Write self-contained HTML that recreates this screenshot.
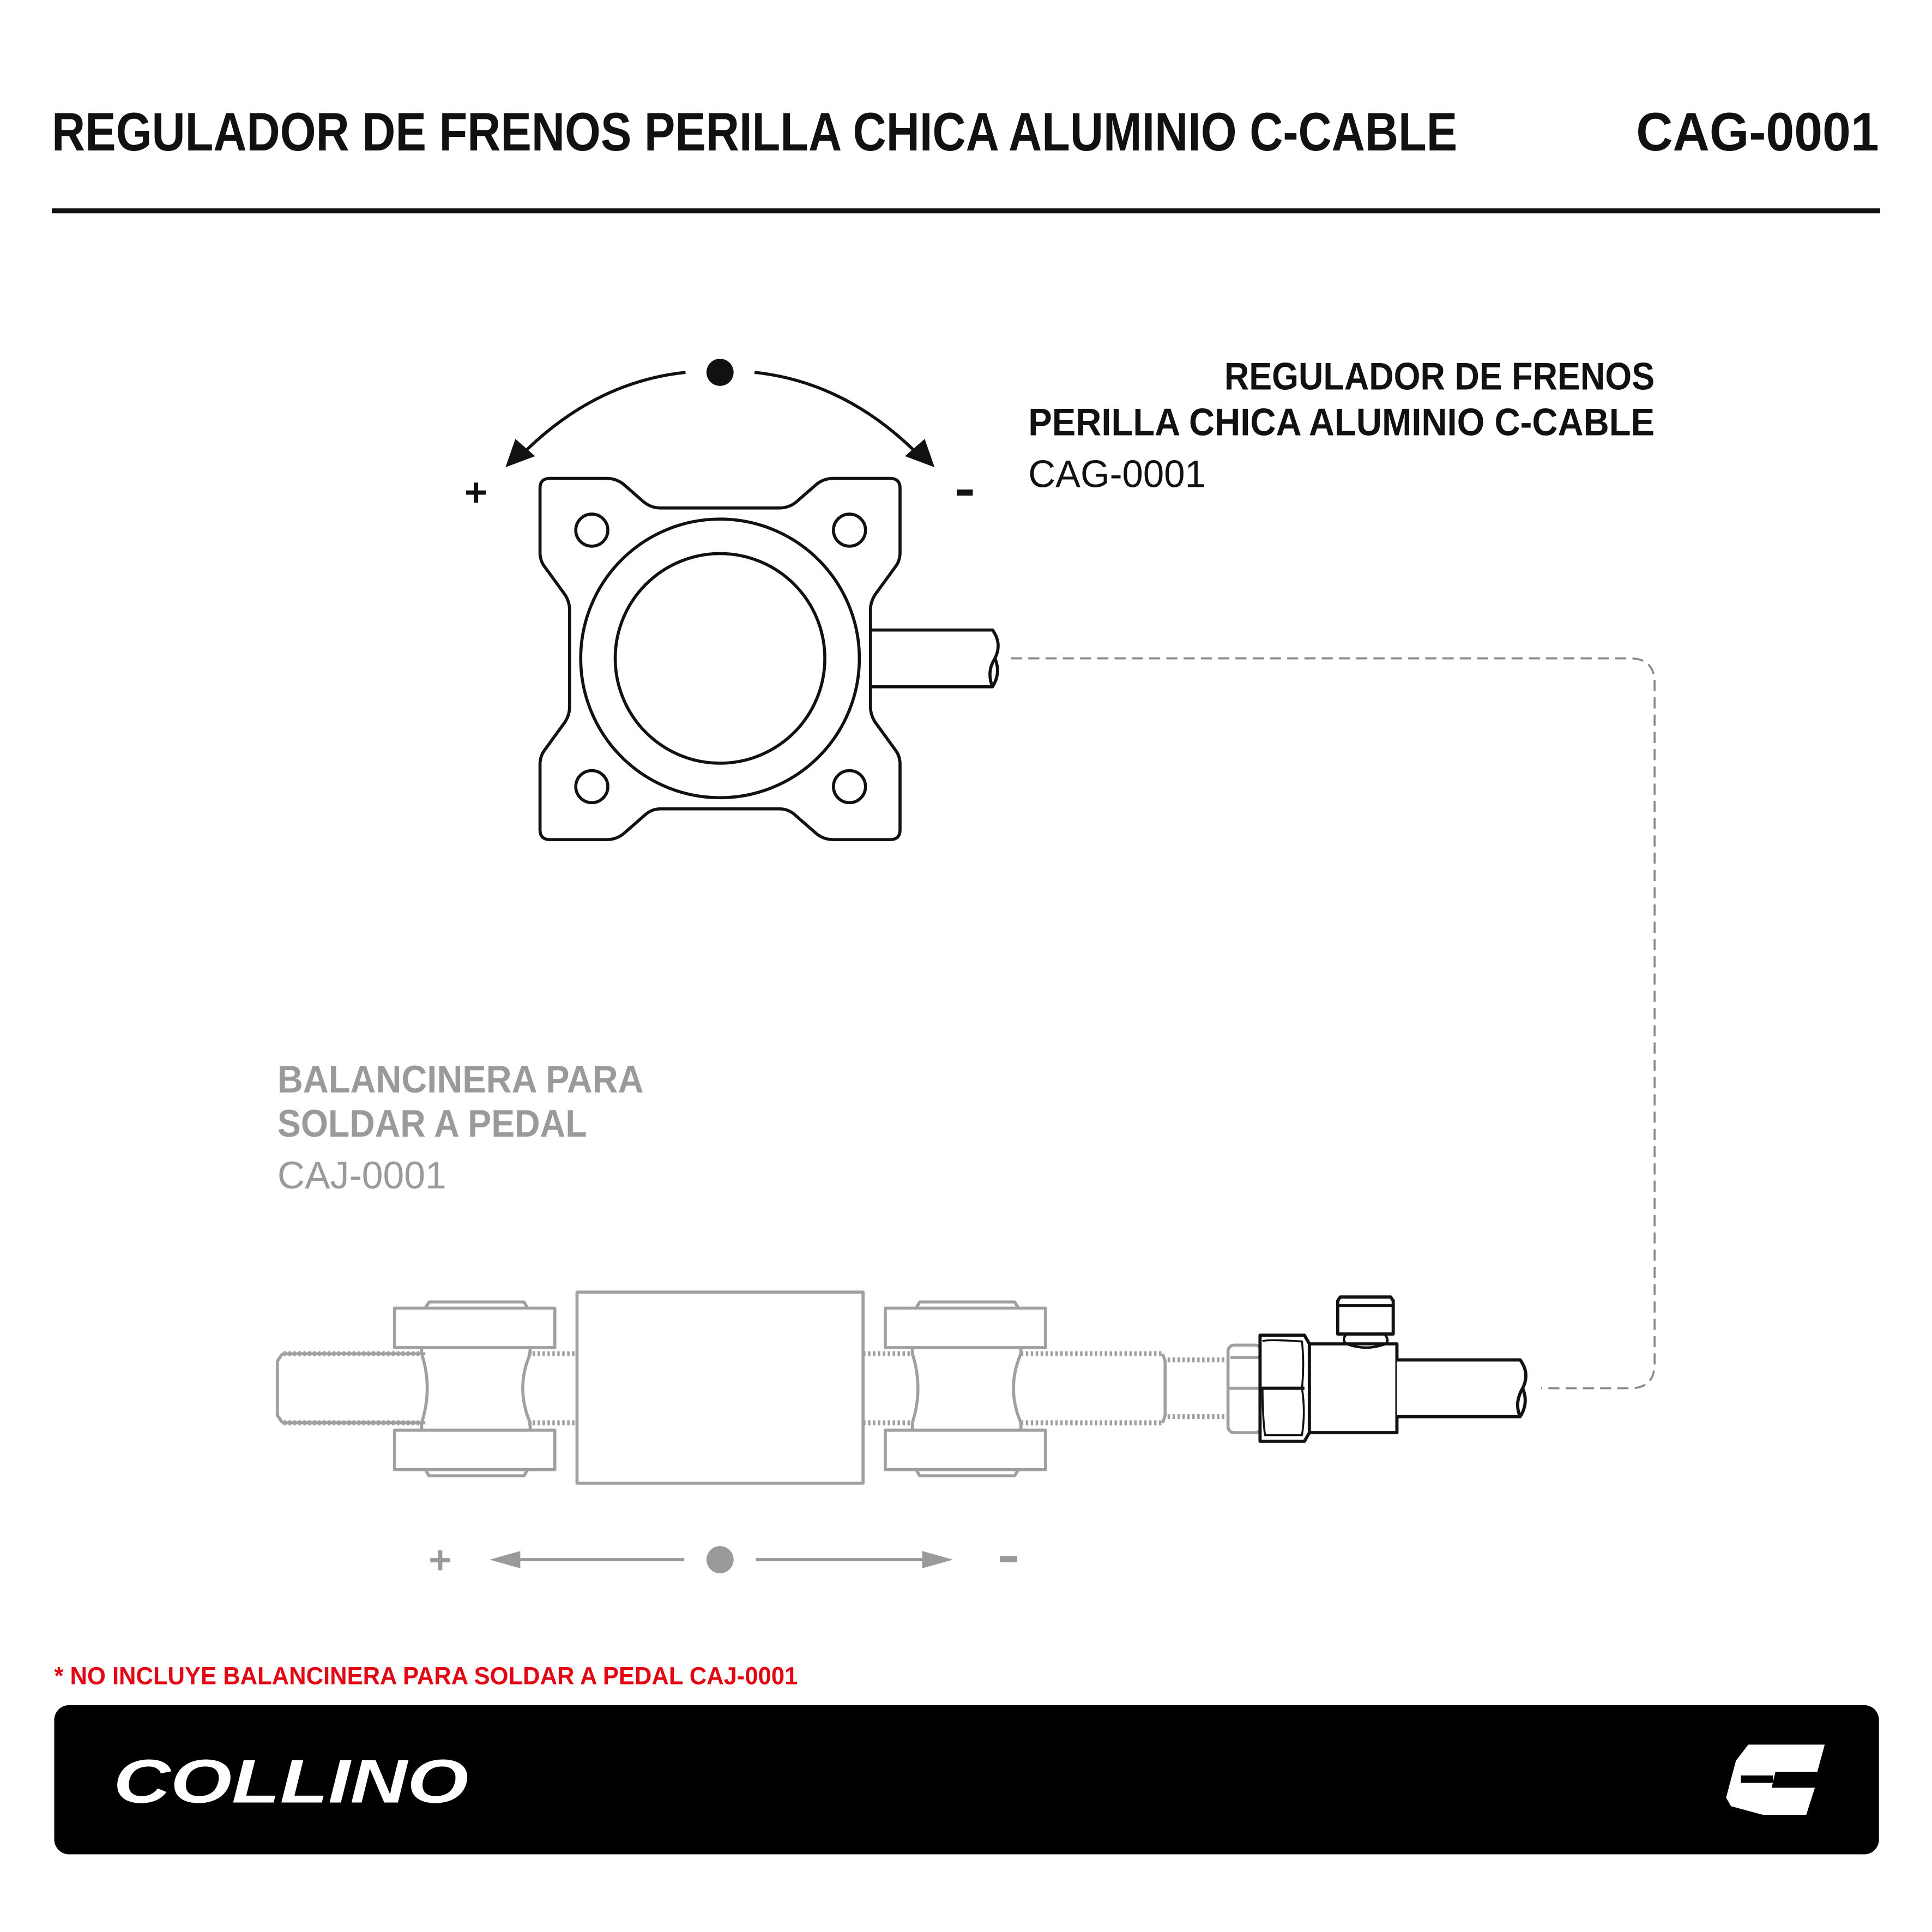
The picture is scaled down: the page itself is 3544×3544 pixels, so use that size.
<!DOCTYPE html>
<html><head><meta charset="utf-8"><style>
html,body{margin:0;padding:0;background:#fff;}
svg{display:block;}
text{font-family:"Liberation Sans",sans-serif;font-weight:bold;}
</style></head><body>
<svg width="3544" height="3544" viewBox="0 0 1567 1567" xmlns="http://www.w3.org/2000/svg">
<rect width="1567" height="1567" fill="#fff"/>
<!-- header -->
<text x="42" y="122" font-size="44" textLength="1140" lengthAdjust="spacingAndGlyphs" fill="#111">REGULADOR DE FRENOS PERILLA CHICA ALUMINIO C-CABLE</text>
<text x="1524" y="122" font-size="44" text-anchor="end" textLength="197" lengthAdjust="spacingAndGlyphs" fill="#111">CAG-0001</text>
<rect x="42" y="169" width="1483" height="4" fill="#111"/>

<!-- right label -->
<text x="1342" y="316" font-size="31" text-anchor="end" textLength="349" lengthAdjust="spacingAndGlyphs" fill="#111">REGULADOR DE FRENOS</text>
<text x="1342" y="353" font-size="31" text-anchor="end" textLength="508" lengthAdjust="spacingAndGlyphs" fill="#111">PERILLA CHICA ALUMINIO C-CABLE</text>
<text x="834" y="395" font-size="31" style="font-weight:normal" textLength="144" lengthAdjust="spacingAndGlyphs" fill="#111">CAG-0001</text>

<!-- gray label -->
<text x="225" y="886" font-size="31" textLength="297" lengthAdjust="spacingAndGlyphs" fill="#9a9a9a">BALANCINERA PARA</text>
<text x="225" y="922" font-size="31" textLength="251" lengthAdjust="spacingAndGlyphs" fill="#9a9a9a">SOLDAR A PEDAL</text>
<text x="225" y="964" font-size="31" style="font-weight:normal" textLength="137" lengthAdjust="spacingAndGlyphs" fill="#9a9a9a">CAJ-0001</text>

<!-- regulator -->
<g fill="none" stroke="#111" stroke-width="2.5" stroke-linejoin="round">
<path d="M446,388 L492,388 Q500,388 506,393 L522,407 Q528,412 536,412 L632,412 Q640,412 646,407 L662,393 Q668,388 676,388 L722,388 Q730,388 730,396 L730,448 Q730,455 726,460 L710,482 Q706,488 706,495 L706,573 Q706,580 710,586 L726,608 Q730,613 730,620 L730,673 Q730,681 722,681 L676,681 Q668,681 662,676 L646,662 Q640,656 632,656 L536,656 Q528,656 522,662 L506,676 Q500,681 492,681 L446,681 Q438,681 438,673 L438,620 Q438,613 442,608 L458,586 Q462,580 462,573 L462,495 Q462,488 458,482 L442,460 Q438,455 438,448 L438,396 Q438,388 446,388 Z"/>
<circle cx="480" cy="430" r="13"/><circle cx="689" cy="430" r="13"/>
<circle cx="480" cy="638" r="13"/><circle cx="689" cy="638" r="13"/>
<circle cx="584" cy="534" r="113"/><circle cx="584" cy="534" r="85"/>
<path d="M706,511 L805,511 Q813,522 807,534 Q800,545 805,557 L706,557"/>
<path d="M807,534 Q812,546 805,557"/>
<path d="M556,302 Q480,310 420,372"/>
<path d="M612,302 Q688,310 748,372"/>
</g>
<polygon points="410,379 418,356 434,370" fill="#111"/>
<polygon points="758,379 750,356 734,370" fill="#111"/>
<circle cx="584" cy="302" r="11" fill="#111"/>
<text x="386" y="410" font-size="32" text-anchor="middle" fill="#111">+</text>
<rect x="776" y="397" width="13" height="5" fill="#111"/>

<!-- dashed connector -->
<path d="M820,534 L1322,534 Q1342,534 1342,554 L1342,1106 Q1342,1126 1322,1126 L1250,1126" fill="none" stroke="#888" stroke-width="1.6" stroke-dasharray="9,5"/>

<!-- balancer (gray) -->
<g fill="none" stroke="#a0a0a0" stroke-width="2.5" stroke-linejoin="round">
<path d="M229,1098 L345,1098 M229,1154 L345,1154 M229,1098 L225,1104 L225,1148 L229,1154" />
<path d="M230,1098 L340,1098" stroke-dasharray="2,2" stroke-width="4"/>
<path d="M230,1154 L340,1154" stroke-dasharray="2,2" stroke-width="4"/>
<path d="M428,1098 L468,1098 M428,1154 L468,1154" stroke-dasharray="2,2" stroke-width="4"/>
<rect x="320" y="1061" width="130" height="32"/>
<rect x="320" y="1160" width="130" height="32"/>
<path d="M345,1061 L348,1056 L425,1056 L428,1061"/>
<path d="M345,1192 L348,1197 L425,1197 L428,1192"/>
<path d="M342,1093 L342,1098 Q351,1126 342,1154 L342,1160"/>
<path d="M430,1093 L430,1098 Q418,1126 430,1154 L430,1160"/>
<rect x="468" y="1048" width="232" height="155"/>
<path d="M700,1098 L740,1098 M700,1154 L740,1154" stroke-dasharray="2,2" stroke-width="4"/>
<rect x="718" y="1061" width="130" height="32"/>
<rect x="718" y="1160" width="130" height="32"/>
<path d="M743,1061 L746,1056 L823,1056 L826,1061"/>
<path d="M743,1192 L746,1197 L823,1197 L826,1192"/>
<path d="M740,1093 L740,1098 Q749,1126 740,1154 L740,1160"/>
<path d="M828,1093 L828,1098 Q816,1126 828,1154 L828,1160"/>
<path d="M828,1098 L943,1098 M828,1154 L943,1154" stroke-dasharray="2,2" stroke-width="4"/>
<path d="M943,1098 L945,1104 L945,1148 L943,1154"/>
<path d="M947,1103 L994,1103 M947,1149 L994,1149" stroke-dasharray="2,2" stroke-width="4"/>
<rect x="996" y="1091" width="27" height="71" rx="5"/>
<path d="M996,1126 L1023,1126 M998,1101 L1023,1101"/>
</g>

<!-- black fitting -->
<g fill="#fff" stroke="#111" stroke-width="2.6" stroke-linejoin="round">
<rect x="1060" y="1090" width="73" height="72"/>
<path d="M1022,1083 L1058,1083 L1062,1090 L1062,1162 L1058,1169 L1022,1169 Z"/>
<path d="M1022,1126 L1058,1126" fill="none"/>
<path d="M1024,1088 Q1026,1086 1056,1088 Q1058,1107 1056,1126 M1024,1126 Q1024,1148 1026,1164 L1056,1164 Q1059,1145 1056,1126" fill="none" stroke-width="1.6"/>
<path d="M1133,1103 L1233,1103 Q1241,1114 1235,1126 Q1228,1138 1233,1149 L1133,1149"/>
<path d="M1235,1126 Q1240,1138 1233,1149" fill="none"/>
<path d="M1085,1055 L1087,1052 L1128,1052 L1130,1055 L1130,1082 L1085,1082 Z"/>
<path d="M1085,1059 L1130,1059" fill="none"/>
<path d="M1092,1082 Q1088,1087 1092,1090 Q1108,1096 1124,1090 Q1127,1087 1123,1082" fill="none" stroke-width="2"/>
</g>

<!-- bottom arrows gray -->
<text x="357" y="1276" font-size="32" text-anchor="middle" fill="#9a9a9a">+</text>
<line x1="410" y1="1265" x2="555" y2="1265" stroke="#9a9a9a" stroke-width="2.5"/>
<polygon points="397,1265 422,1258 422,1272" fill="#9a9a9a"/>
<circle cx="584" cy="1265" r="11" fill="#9a9a9a"/>
<line x1="613" y1="1265" x2="760" y2="1265" stroke="#9a9a9a" stroke-width="2.5"/>
<polygon points="773,1265 748,1258 748,1272" fill="#9a9a9a"/>
<rect x="811" y="1262" width="14" height="5" fill="#9a9a9a"/>

<!-- note -->
<text x="44" y="1366" font-size="20" textLength="603" lengthAdjust="spacingAndGlyphs" fill="#e30613">* NO INCLUYE BALANCINERA PARA SOLDAR A PEDAL CAJ-0001</text>

<!-- footer -->
<rect x="44" y="1383" width="1480" height="121" rx="12" fill="#000"/>
<text x="92" y="1462" font-size="50" font-style="italic" textLength="288" lengthAdjust="spacingAndGlyphs" fill="#fff" style="font-weight:900">COLLINO</text>
<path d="M1418,1415 L1480,1415 L1474,1437 L1440,1437 L1437,1450 L1472,1450 L1465,1472 L1430,1472 L1404,1465 L1400,1458 L1408,1428 Z" fill="#fff"/>
<rect x="1412" y="1440" width="26" height="6" fill="#000"/>
</svg>
</body></html>
